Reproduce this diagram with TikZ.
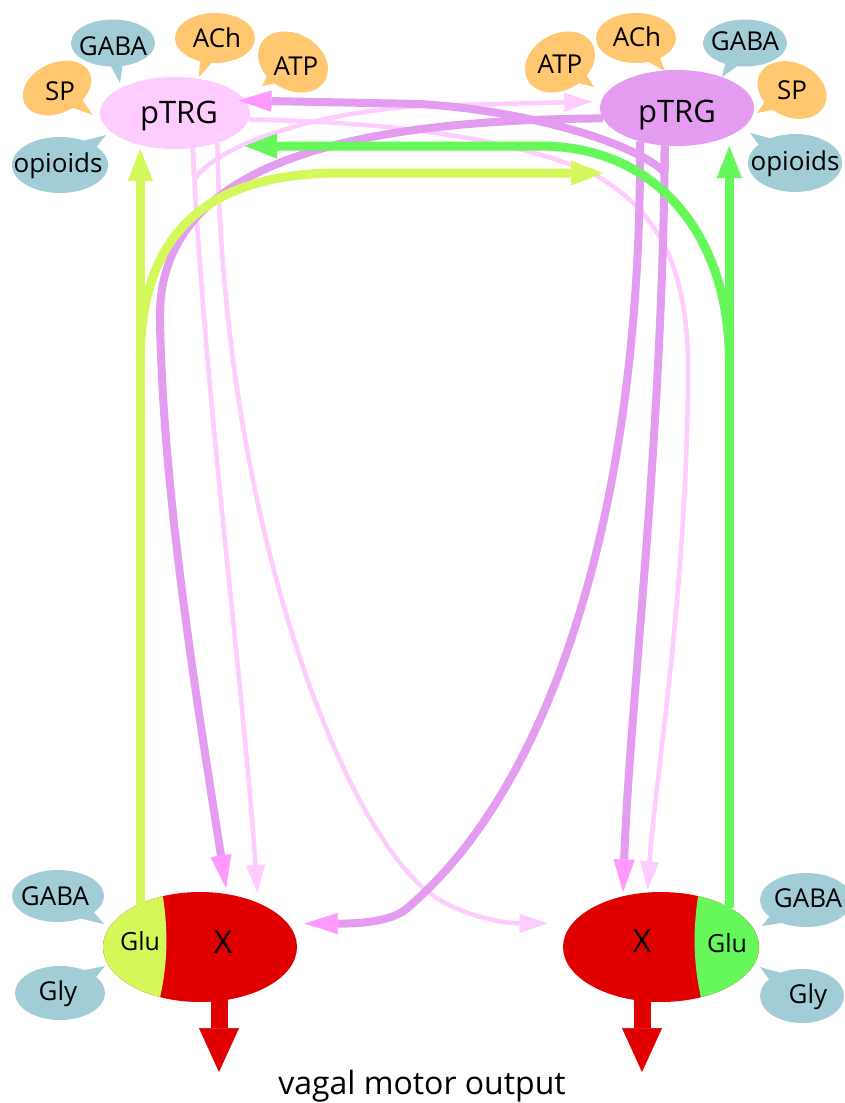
\documentclass[tikz,border=0pt]{standalone}
\usepackage{fontspec}
\setmainfont{Open Sans}
\usetikzlibrary{arrows.meta,shapes.geometric,calc}
\definecolor{lpink}{HTML}{FFCCFF}
\definecolor{vio}{HTML}{E49CF0}
\definecolor{tipk}{HTML}{FF99FF}
\definecolor{yg}{HTML}{D4F85A}
\definecolor{gr}{HTML}{66F75A}
\definecolor{bblue}{HTML}{A3CDD6}
\definecolor{borange}{HTML}{FFC870}
\definecolor{xred}{HTML}{E10000}
\newcommand\fsz[1]{\fontsize{#1}{#1}\selectfont}
\tikzset{
 ell/.style={ellipse, inner sep=0pt, outer sep=0pt, draw=none},
 lbl/.style={anchor=base, inner sep=0pt, font=\fsz{26}},
 pinkarr/.style={draw=lpink, line width=4.5pt, line join=round, -{Triangle[length=28pt,width=19pt,color=lpink,line width=0.5pt]}},
 vioarr/.style={draw=vio, line width=8pt, line join=round, -{Triangle[length=33pt,width=21pt,color=tipk,line width=0.5pt]}},
 ygarr/.style={draw=yg, line width=9pt, -{Triangle[length=32pt,width=25pt,color=yg,line width=0.5pt]}},
 grarr/.style={draw=gr, line width=9pt, -{Triangle[length=32pt,width=25pt,color=gr,line width=0.5pt]}},
 outarr/.style={draw=xred, line width=17pt, -{Triangle[length=44pt,width=40pt,color=xred,line width=0.5pt]}},
}
% name, centre, width, height, rotation, tail tip, colour, text base, text
\newcommand\bub[9]{%
  \node[ell, fill=#7, minimum width=#3pt, minimum height=#4pt, rotate=#5] (#1) at (#2) {};
  \path (#6) -- (#1) coordinate[pos=1] (#1b);
  \fill[#7] (#6) -- ($(#1b)!9pt!55:(#1.center)$) -- ($(#1b)!9pt!-55:(#1.center)$) -- cycle;
  \node[lbl] (#1t) at (#8) {#9};
}
\begin{document}
\begin{tikzpicture}[x=1pt,y=-1pt]
\fill[white] (0,0) rectangle (845,1103);
\useasboundingbox (0,0) rectangle (845,1103);

% speech bubbles
\bub{lgaba}{113,43}{84}{47}{0}{120,83}{bblue}{113,55}{GABA}
\bub{lach}{215,38}{80}{50}{0}{199,77}{borange}{217,47}{ACh}
\bub{latp}{293,62}{74}{56}{-30}{262,86}{borange}{296,75}{ATP}
\bub{lsp}{57,88}{72}{50}{25}{93,115}{borange}{60,100}{SP}
\bub{lopi}{60,165}{96}{56}{0}{106,135}{bblue}{58,172}{opioids}
\bub{ratp}{560,62}{74}{56}{30}{594,87}{borange}{560,73}{ATP}
\bub{rach}{636,38}{80}{50}{0}{665,71}{borange}{637,46}{ACh}
\bub{rgaba}{745,43}{84}{47}{0}{722,77}{bblue}{745,50}{GABA}
\bub{rsp}{792,90}{72}{54}{-25}{757,113}{borange}{792,99}{SP}
\bub{ropi}{795,163}{94}{58}{0}{750,133}{bblue}{795,170}{opioids}
\bub{lxgaba}{58,896}{92}{52}{0}{104,924}{bblue}{55,905}{GABA}
\bub{lxgly}{60,993}{90}{54}{0}{105,966}{bblue}{58,1000}{Gly}
\bub{rxgaba}{806,900}{92}{54}{0}{762,926}{bblue}{808,907}{GABA}
\bub{rxgly}{802,996}{84}{54}{0}{760,967}{bblue}{808,1003}{Gly}

% main nodes
\node[ell, fill=lpink, minimum width=150pt, minimum height=72pt] (lp) at (175,113) {};
\node[ell, fill=vio, minimum width=154pt, minimum height=76pt] (rp) at (677,108) {};
\node[ell, minimum width=194pt, minimum height=110pt] (lx) at (200,947) {};
\node[ell, minimum width=196pt, minimum height=110pt] (rx) at (661,947) {};
\begin{scope}
 \clip (lx.center) ellipse [x radius=97pt, y radius=55pt];
 \fill[xred] (100,890) rectangle (300,1005);
 \fill[yg] (95,880) -- (160,880) .. controls (169,925) and (169,965) .. (157,1010) -- (95,1010) -- cycle;
\end{scope}
\begin{scope}
 \clip (rx.center) ellipse [x radius=98pt, y radius=55pt];
 \fill[xred] (560,890) rectangle (762,1005);
 \fill[gr] (765,880) -- (701,880) .. controls (692,925) and (692,965) .. (704,1010) -- (765,1010) -- cycle;
\end{scope}

% light pink connectors (from left pTRG)
\draw[pinkarr, shorten >=9pt] (lp.-63) -- (194.3,180) .. controls (212,150) and (300,114) .. (420,106) -- (rp.175);
\draw[pinkarr, shorten >=3pt] (lp.-5) .. controls (380,122) and (500,135) .. (590,172)
   .. controls (660,210) and (690,270) .. (688,380) .. controls (686,600) and (655,780) .. (rx.104);
\draw[pinkarr, shorten >=10pt] (lp.-63) .. controls (205,400) and (240,650) .. (lx.37);
\draw[pinkarr, shorten >=25pt] (lp.-35) .. controls (222,500) and (330,800) .. (420,885)
   .. controls (455,918) and (510,923.5) .. (rx.165);

% violet connectors (from right pTRG)
\draw[vioarr, shorten >=-7pt] (rp.-108) -- (664.5,172) .. controls (630,140) and (520,110) .. (420,104) -- (lp.10);
\draw[vioarr, shorten >=6pt] (rp.188) .. controls (330,120) and (157,170) .. (160,320)
   .. controls (163,500) and (200,720) .. (lx.63);
\draw[vioarr, shorten >=17pt] (rp.-138) .. controls (642,500) and (555,785) .. (405,910)
   .. controls (385,925) and (340,923.5) .. (lx.15);
\draw[vioarr, shorten >=4pt] (rp.-108) .. controls (662,450) and (630,700) .. (rx.127);

% glutamatergic connectors
\coordinate (g3s) at (140.3,360);
\coordinate (g3end) at (603,173);
\coordinate (g4s) at (729.3,360);
\coordinate (g4end) at (245,146);
\draw[ygarr] (lx.144) -- (lx.144 |- lp.south);
\draw[grarr] (rx.30) -- (rx.30 |- rp.south);
\draw[ygarr] (g3s) .. controls (140.3,240) and (200,173) .. (340,173) -- (g3end);
\draw[grarr] (g4s) .. controls (729.3,240) and (660,146) .. (540,146) -- (g4end);

% motor outputs
\coordinate (lout) at (219,1072);
\coordinate (rout) at (642,1072);
\draw[outarr] ([xshift=19pt,yshift=8pt]lx.south) -- (lout);
\draw[outarr] ([xshift=-19pt,yshift=8pt]rx.south) -- (rout);

% texts
\node[lbl, font=\fsz{31}] (lpt) at (179,123) {pTRG};
\node[lbl, font=\fsz{31}] (rpt) at (677,122) {pTRG};
\node[lbl, font=\fsz{32}] (lxt) at (223,953) {X};
\node[lbl, font=\fsz{32}] (rxt) at (642,952) {X};
\node[lbl, font=\fsz{25}] (lglu) at (140,950) {Glu};
\node[lbl, font=\fsz{25}] (rglu) at (727,952) {Glu};
\node[lbl, font=\fsz{32}] (vmo) at (422,1094) {vagal motor output};
\end{tikzpicture}
\end{document}
